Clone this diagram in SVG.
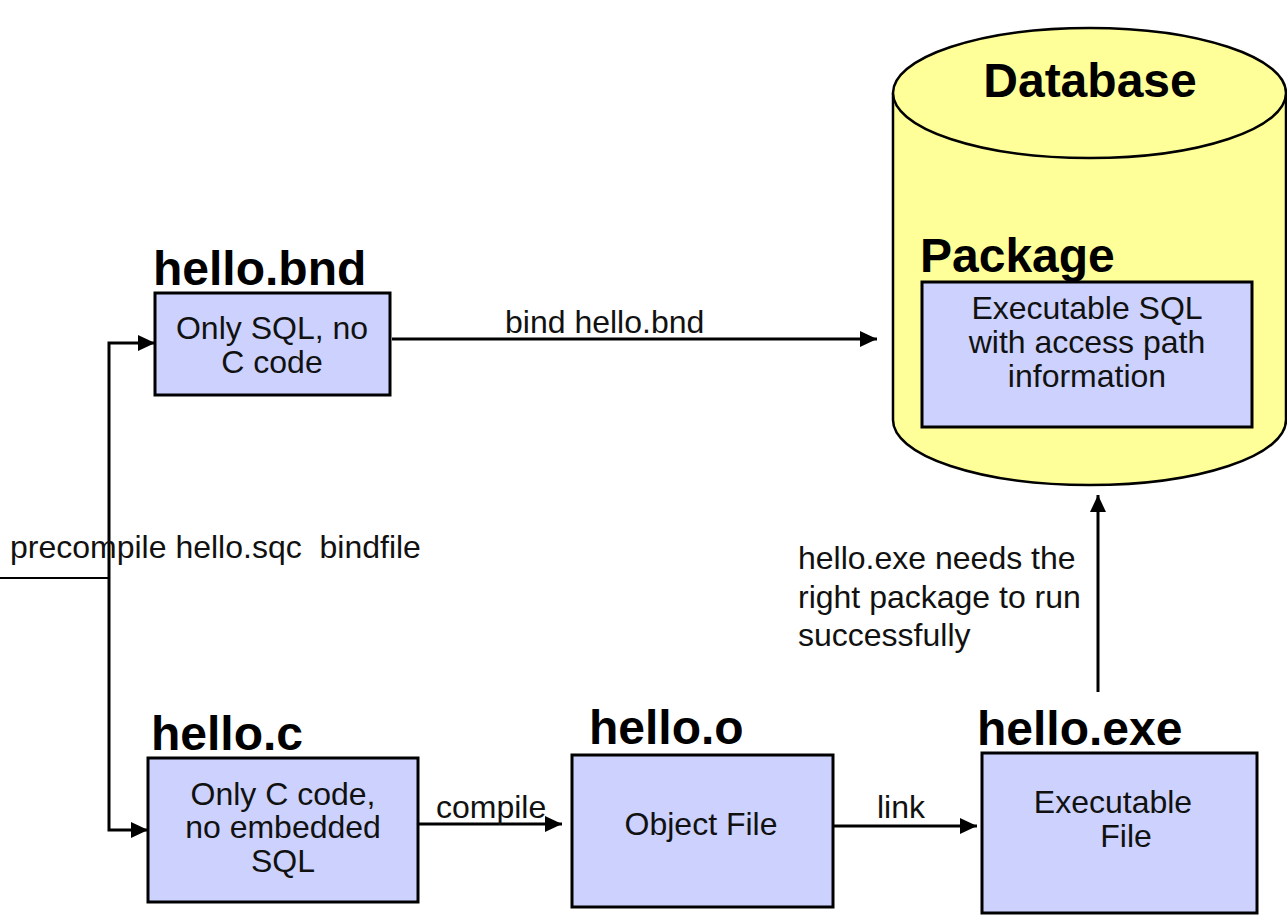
<svg xmlns="http://www.w3.org/2000/svg" width="1287" height="915" viewBox="0 0 1287 915">
  <style>
    .box { fill: #CCD1FD; stroke: #000; stroke-width: 3; }
    .db { fill: #FFFF99; stroke: #000; stroke-width: 2.5; }
    .title { font-family: "Liberation Sans", Arial, sans-serif; font-weight: bold; font-size: 48px; fill: #000; }
    .txt { font-family: "Liberation Sans", Arial, sans-serif; font-size: 32px; fill: #111; }
    .mid { text-anchor: middle; }
    .wire { fill: none; stroke: #000; stroke-width: 3; }
    .thin { fill: none; stroke: #000; stroke-width: 2; }
  </style>
  <defs>
    <marker id="arrow" markerUnits="userSpaceOnUse" markerWidth="18" markerHeight="16" refX="17" refY="8" orient="auto">
      <path d="M0,0 L17,8 L0,16 Z" fill="#000"/>
    </marker>
    <marker id="arrow-start" markerUnits="userSpaceOnUse" markerWidth="18" markerHeight="16" refX="17" refY="8" orient="auto-start-reverse">
      <path d="M0,0 L17,8 L0,16 Z" fill="#000"/>
    </marker>
  </defs>
  <rect width="1287" height="915" fill="#fff"/>

  <!-- database cylinder with the package inside -->
  <g id="database">
    <path class="db" d="M893,93 L893,420 A196.5,65 0 0 0 1286,420 L1286,93"/>
    <ellipse class="db" cx="1089.5" cy="93" rx="196.5" ry="65"/>
    <text class="title mid" x="1090" y="97">Database</text>
  </g>
  <g id="package">
    <text class="title" x="920" y="272">Package</text>
    <rect class="box" x="922" y="282" width="330" height="145"/>
    <text class="txt mid" x="1087" y="319">Executable SQL</text>
    <text class="txt mid" x="1087" y="353">with access path</text>
    <text class="txt mid" x="1087" y="387">information</text>
  </g>

  <g id="hello-bnd">
    <text class="title" x="153" y="285">hello.bnd</text>
    <rect class="box" x="155" y="293" width="235" height="102"/>
    <text class="txt mid" x="272" y="339">Only SQL, no</text>
    <text class="txt mid" x="272" y="373">C code</text>
  </g>

  <g id="hello-c">
    <text class="title" x="151" y="750">hello.c</text>
    <rect class="box" x="148" y="758" width="270" height="144"/>
    <text class="txt mid" x="283" y="805">Only C code,</text>
    <text class="txt mid" x="283" y="838">no embedded</text>
    <text class="txt mid" x="283" y="872">SQL</text>
  </g>

  <g id="hello-o">
    <text class="title" x="589" y="744">hello.o</text>
    <rect class="box" x="572" y="755" width="261" height="152"/>
    <text class="txt mid" x="701" y="835">Object File</text>
  </g>

  <g id="hello-exe">
    <text class="title" x="977" y="745">hello.exe</text>
    <rect class="box" x="982" y="753" width="275" height="160"/>
    <text class="txt mid" x="1113" y="813">Executable</text>
    <text class="txt mid" x="1126" y="847">File</text>
  </g>

  <g id="connectors">
    <!-- precompile: input split into the bind file and the C source -->
    <line class="thin" x1="0" y1="578" x2="109" y2="578"/>
    <polyline class="wire" points="155,343 109,343 109,830 148,830" marker-start="url(#arrow-start)" marker-end="url(#arrow)"/>
    <text class="txt" x="10" y="558" xml:space="preserve">precompile hello.sqc  bindfile</text>

    <line class="wire" x1="392" y1="339" x2="877" y2="339" marker-end="url(#arrow)"/>
    <text class="txt" x="505" y="333">bind hello.bnd</text>

    <line class="wire" x1="418" y1="824" x2="562" y2="824" marker-end="url(#arrow)"/>
    <text class="txt" x="436" y="818">compile</text>

    <line class="wire" x1="833" y1="826" x2="977" y2="826" marker-end="url(#arrow)"/>
    <text class="txt" x="877" y="818">link</text>

    <line class="wire" x1="1098" y1="692" x2="1098" y2="495" marker-end="url(#arrow)"/>
    <text class="txt" x="798" y="569">hello.exe needs the</text>
    <text class="txt" x="798" y="608">right package to run</text>
    <text class="txt" x="798" y="646">successfully</text>
  </g>
</svg>
